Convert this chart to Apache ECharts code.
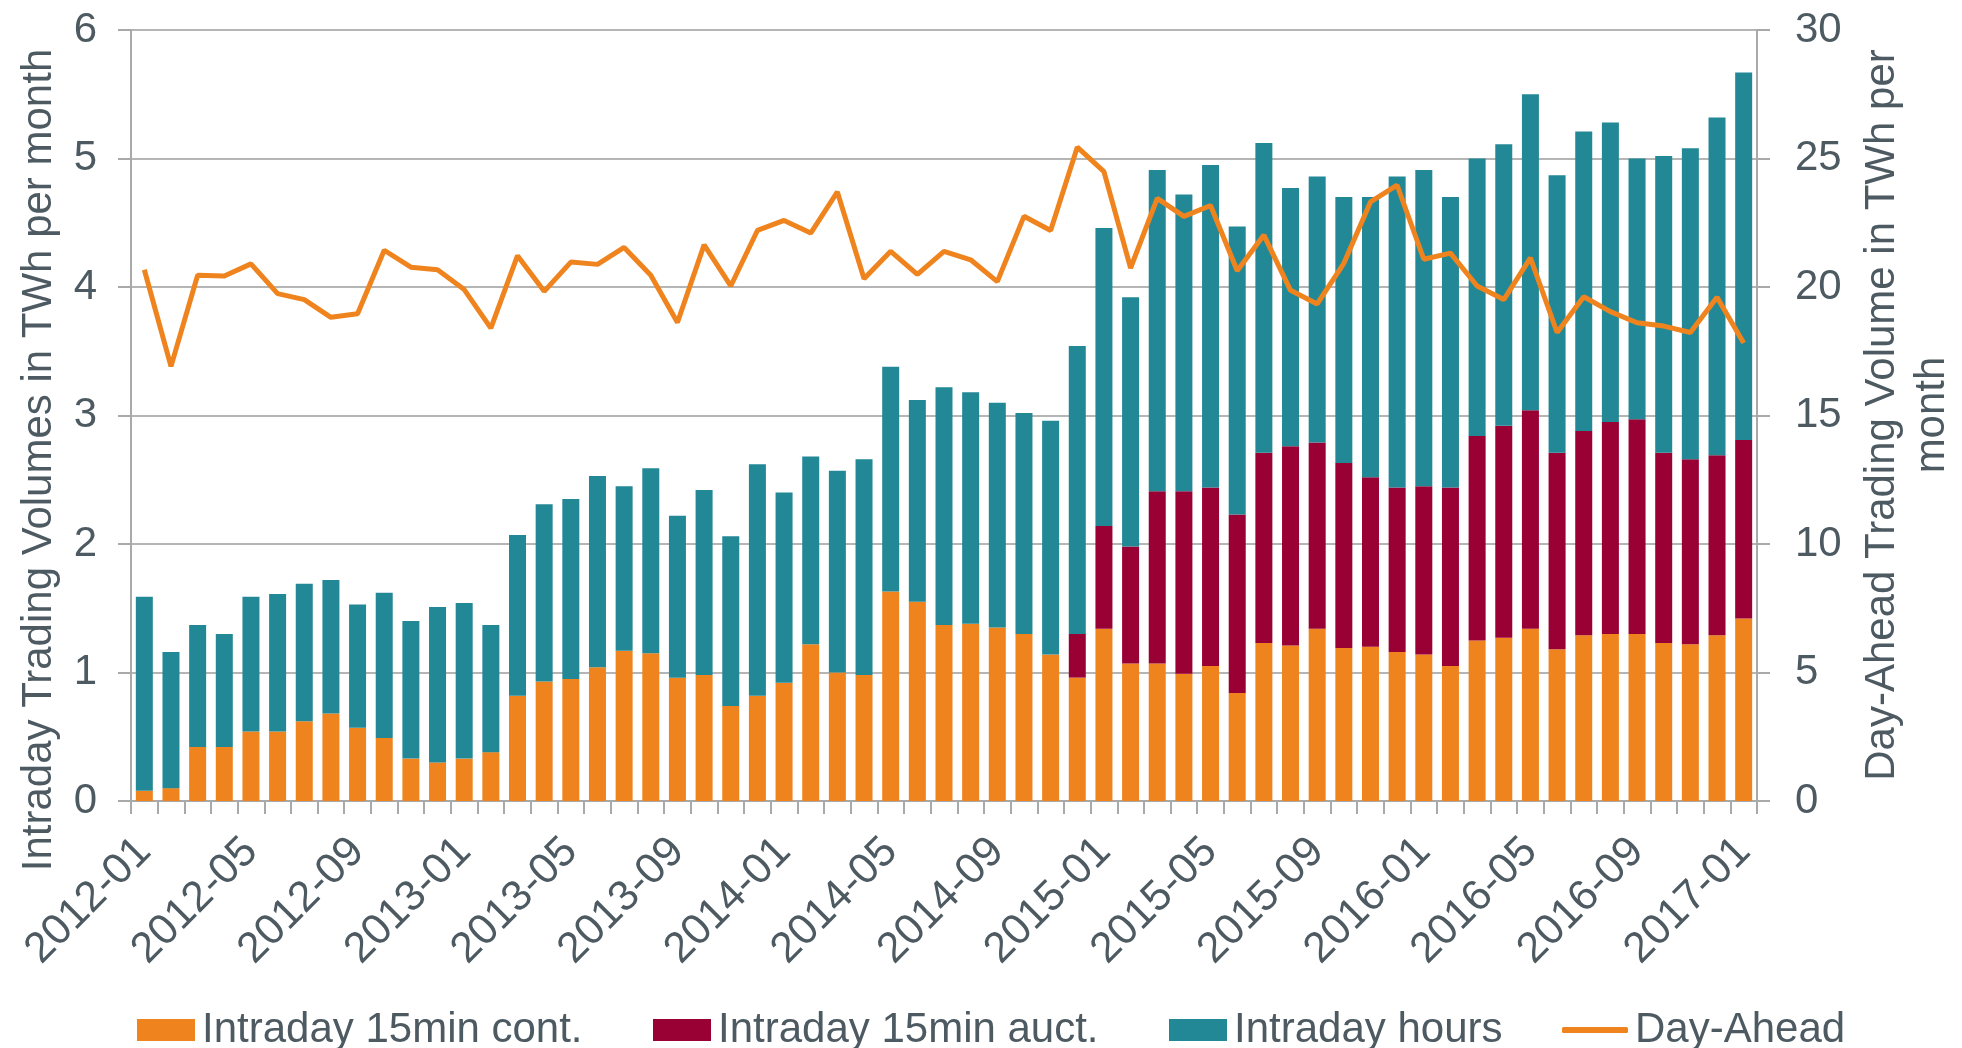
<!DOCTYPE html>
<html>
<head>
<meta charset="utf-8">
<script src="https://cdn.jsdelivr.net/npm/echarts@6/dist/echarts.min.js"></script>
<style>
html,body{margin:0;padding:0;background:#fff;}
#chart{width:1962px;height:1048px;}
</style>
</head>
<body>
<div id="chart"></div>
<script>
const categories = ['2012-01','2012-02','2012-03','2012-04','2012-05','2012-06','2012-07','2012-08','2012-09','2012-10','2012-11','2012-12',
'2013-01','2013-02','2013-03','2013-04','2013-05','2013-06','2013-07','2013-08','2013-09','2013-10','2013-11','2013-12',
'2014-01','2014-02','2014-03','2014-04','2014-05','2014-06','2014-07','2014-08','2014-09','2014-10','2014-11','2014-12',
'2015-01','2015-02','2015-03','2015-04','2015-05','2015-06','2015-07','2015-08','2015-09','2015-10','2015-11','2015-12',
'2016-01','2016-02','2016-03','2016-04','2016-05','2016-06','2016-07','2016-08','2016-09','2016-10','2016-11','2016-12',
'2017-01'];

// Intraday 15min continuous (TWh)
const cont15 = [0.08,0.10,0.42,0.42,0.54,0.54,0.62,0.68,0.57,0.49,
0.33,0.30,0.33,0.38,0.82,0.93,0.95,1.04,1.17,1.15,
0.96,0.98,0.74,0.82,0.92,1.22,1.00,0.98,1.63,1.55,
1.37,1.38,1.35,1.30,1.14,0.96,1.34,1.07,1.07,0.99,
1.05,0.84,1.23,1.21,1.34,1.19,1.20,1.16,1.14,1.05,
1.25,1.27,1.34,1.18,1.29,1.30,1.30,1.23,1.22,1.29,
1.42];

// Intraday 15min auction (TWh)
const auct15 = [0,0,0,0,0,0,0,0,0,0,
0,0,0,0,0,0,0,0,0,0,
0,0,0,0,0,0,0,0,0,0,
0,0,0,0,0,0.34,0.80,0.91,1.34,1.42,
1.39,1.39,1.48,1.55,1.45,1.44,1.32,1.28,1.31,1.39,
1.59,1.65,1.70,1.53,1.59,1.65,1.67,1.48,1.44,1.40,
1.39];

// Intraday hours (TWh)
const hours = [1.51,1.06,0.95,0.88,1.05,1.07,1.07,1.04,0.96,1.13,
1.07,1.21,1.21,0.99,1.25,1.38,1.40,1.49,1.28,1.44,
1.26,1.44,1.32,1.80,1.48,1.46,1.57,1.68,1.75,1.57,
1.85,1.80,1.75,1.72,1.82,2.24,2.32,1.94,2.50,2.31,
2.51,2.24,2.41,2.01,2.07,2.07,2.18,2.42,2.46,2.26,
2.16,2.19,2.46,2.16,2.33,2.33,2.03,2.31,2.42,2.63,
2.86];

// Day-Ahead (TWh, right axis)
const dayAhead = [20.67,16.91,20.46,20.43,20.90,19.74,19.51,18.82,18.96,21.43,
20.77,20.67,19.90,18.40,21.22,19.83,20.97,20.88,21.54,20.46,
18.62,21.64,20.04,22.20,22.59,22.10,23.70,20.32,21.39,20.49,
21.39,21.06,20.21,22.75,22.20,25.44,24.49,20.74,23.45,22.75,
23.17,20.63,22.02,19.87,19.34,20.92,23.31,23.96,21.08,21.32,
20.04,19.51,21.13,18.23,19.62,19.04,18.61,18.48,18.23,19.60,
17.82];

const seriesNames = ['Intraday 15min cont.','Intraday 15min auct.','Intraday hours','Day-Ahead'];
const leftTicks = {min:0, max:6, interval:1};
const rightTicks = {min:0, max:30, interval:5};
const leftTitle = 'Intraday Trading Volumes in TWh per month';
const rightTitle = 'Day-Ahead Trading Volume in TWh per\nmonth';

const FONT = '"Liberation Sans", Arial, Helvetica, sans-serif';
const TXT = '#4d5a62';
const AX = '#a9a9a9';
const C_ORANGE = '#ef841f';
const C_RED = '#990033';
const C_TEAL = '#238896';

const chart = echarts.init(document.getElementById('chart'), null, {renderer:'canvas'});

function legendAt(left, name, w, h, icon){
  return {
    left: left, top: 1004, orient:'horizontal',
    data: [{name: name, icon: icon}],
    itemWidth: w, itemHeight: h,
    textStyle: {fontFamily: FONT, fontSize: 42, color: TXT, padding:[0,0,0,2]},
    selectedMode: false
  };
}

const option = {
  backgroundColor: '#ffffff',
  animation: false,
  grid: {left: 131, right: 205, top: 30, bottom: 247, containLabel: false},
  legend: [
    legendAt(132, seriesNames[0], 58, 22, 'rect'),
    legendAt(648, seriesNames[1], 58, 22, 'rect'),
    legendAt(1164, seriesNames[2], 58, 22, 'rect'),
    legendAt(1557, seriesNames[3], 66, 6, 'roundRect')
  ],
  xAxis: {
    type: 'category',
    data: categories,
    boundaryGap: true,
    axisLine: {show: true, lineStyle: {color: AX, width: 2}},
    axisTick: {show: true, interval: 0, length: 13, lineStyle: {color: AX, width: 2}},
    axisLabel: {interval: 3, rotate: 45, margin: 44, fontFamily: FONT, fontSize: 43, color: TXT},
    splitLine: {show: false}
  },
  yAxis: [
    {
      type: 'value', position: 'left',
      min: leftTicks.min, max: leftTicks.max, interval: leftTicks.interval,
      axisLine: {show: true, lineStyle: {color: AX, width: 2}},
      axisTick: {show: true, length: 13, lineStyle: {color: AX, width: 2}},
      axisLabel: {margin: 34, fontFamily: FONT, fontSize: 42, color: TXT},
      splitLine: {show: true, lineStyle: {color: '#b5b5b5', width: 2}}
    },
    {
      type: 'value', position: 'right',
      min: rightTicks.min, max: rightTicks.max, interval: rightTicks.interval,
      axisLine: {show: true, lineStyle: {color: AX, width: 2}},
      axisTick: {show: true, length: 13, lineStyle: {color: AX, width: 2}},
      axisLabel: {margin: 38, fontFamily: FONT, fontSize: 42, color: TXT},
      splitLine: {show: false}
    }
  ],
  series: [
    {name: seriesNames[0], type: 'bar', stack: 'intraday', yAxisIndex: 0, data: cont15,
     barWidth: 17, itemStyle: {color: C_ORANGE}},
    {name: seriesNames[1], type: 'bar', stack: 'intraday', yAxisIndex: 0, data: auct15,
     barWidth: 17, itemStyle: {color: C_RED}},
    {name: seriesNames[2], type: 'bar', stack: 'intraday', yAxisIndex: 0, data: hours,
     barWidth: 17, itemStyle: {color: C_TEAL}},
    {name: seriesNames[3], type: 'line', yAxisIndex: 1, data: dayAhead,
     symbol: 'none', smooth: false, z: 5,
     lineStyle: {color: C_ORANGE, width: 5}, itemStyle: {color: C_ORANGE}}
  ],
  graphic: [
    {type: 'text', x: 39, y: 460, rotation: Math.PI/2,
     style: {text: leftTitle, font: '42px ' + FONT, fill: TXT, align: 'center', verticalAlign: 'middle'}},
    {type: 'text', x: 1907, y: 415, rotation: Math.PI/2,
     style: {text: rightTitle, font: '42px ' + FONT, fill: TXT, align: 'center', verticalAlign: 'middle', lineHeight: 50}}
  ]
};
chart.setOption(option);
</script>
</body>
</html>
